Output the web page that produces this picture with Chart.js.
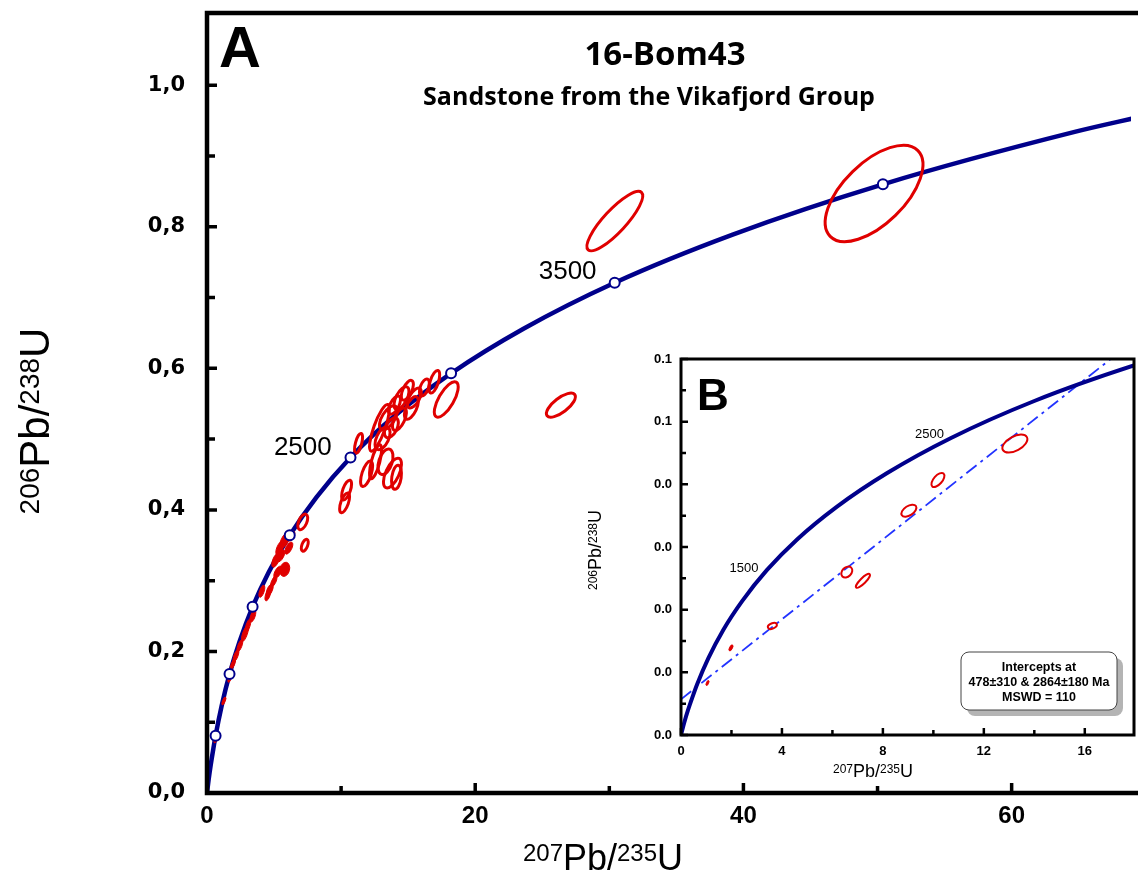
<!DOCTYPE html>
<html>
<head>
<meta charset="utf-8">
<title>16-Bom43 concordia</title>
<script src="https://cdn.jsdelivr.net/npm/chart.js@4.4.1/dist/chart.umd.min.js"></script>
<style>
  html, body { margin: 0; padding: 0; background: #fff; overflow: hidden; }
  #wrap { position: relative; width: 1138px; height: 873px; }
  #mainChart { position: absolute; left: 0; top: 0; }
  #insetChart { position: absolute; left: 570px; top: 340px; }
</style>
</head>
<body>
<div id="wrap">
  <canvas id="mainChart" width="1138" height="873"></canvas>
  <canvas id="insetChart" width="568" height="450"></canvas>
</div>
<script>
// --- Concordia curve (207Pb/235U , 206Pb/238U) ---
const concordiaX = [0, 0.13, 0.28, 0.45, 0.64, 1.09, 1.68, 2.43, 3.40, 4.6, 6.17, 8.17, 10.7, 14.0, 18.2, 23.6, 30.4, 39.2, 50.4, 64.7, 69.5];
const concordiaY = [0, 0.020, 0.040, 0.060, 0.081, 0.123, 0.168, 0.214, 0.263, 0.312, 0.364, 0.418, 0.474, 0.533, 0.593, 0.656, 0.721, 0.789, 0.860, 0.934, 0.955];

// --- Age marks on the concordia (500 Ma steps) ---
const ageMarkX = [0.64, 1.68, 3.40, 6.17, 10.7, 18.2, 30.4, 50.4];
const ageMarkY = [0.081, 0.168, 0.263, 0.364, 0.474, 0.593, 0.721, 0.860];

// --- Main plot ticks ---
const mainXTicks = [0, 20, 40, 60];
const mainXTickLabels = ['0', '20', '40', '60'];
const mainXMinor = [10, 30, 50];
const mainYTicks = [0, 0.2, 0.4, 0.6, 0.8, 1.0];
const mainYTickLabels = ['0,0', '0,2', '0,4', '0,6', '0,8', '1,0'];
const mainYMinor = [0.1, 0.3, 0.5, 0.7, 0.9];

// --- Zircon analyses, open ellipses: centre, half-extent, correlation ---
const grainX   = [49.74, 30.41, 26.39, 17.84, 16.95, 16.21, 15.46, 14.50, 15.24, 14.35, 13.53, 12.86, 13.09, 11.30, 13.31, 13.83, 14.13, 12.57, 11.90, 10.41, 10.26, 7.14, 7.29, 13.98, 14.94, 13.75];
const grainY   = [0.847, 0.808, 0.548, 0.556, 0.581, 0.573, 0.558, 0.558, 0.544, 0.528, 0.530, 0.516, 0.501, 0.494, 0.468, 0.452, 0.446, 0.468, 0.451, 0.428, 0.410, 0.383, 0.350, 0.548, 0.569, 0.516];
const grainSX  = [3.64, 2.08, 1.08, 0.89, 0.40, 0.37, 0.52, 0.56, 0.52, 0.52, 0.67, 0.74, 0.56, 0.30, 0.56, 0.67, 0.37, 0.45, 0.45, 0.37, 0.37, 0.37, 0.26, 0.45, 0.45, 0.52];
const grainSY  = [0.068, 0.042, 0.017, 0.025, 0.016, 0.012, 0.014, 0.016, 0.016, 0.016, 0.017, 0.033, 0.016, 0.014, 0.018, 0.021, 0.017, 0.024, 0.018, 0.014, 0.014, 0.011, 0.0085, 0.013, 0.014, 0.014];
const grainRho = [0.6, 0.85, 0.7, 0.7, 0.6, 0.5, 0.6, 0.6, 0.6, 0.6, 0.6, 0.8, 0.5, 0.6, 0.4, 0.6, 0.3, 0.7, 0.6, 0.6, 0.6, 0.5, 0.5, 0.6, 0.6, 0.5];

// --- Small (precise) analyses, drawn filled ---
const smallX   = [5.80, 5.43, 6.10, 5.13, 5.80, 5.28, 4.98, 4.68, 4.09, 3.42, 3.05, 2.83, 2.45, 2.16, 1.93, 1.71, 1.26, 0.67, 4.54, 5.50, 6.32];
const smallY   = [0.357, 0.346, 0.346, 0.329, 0.316, 0.312, 0.299, 0.287, 0.285, 0.250, 0.236, 0.225, 0.208, 0.194, 0.182, 0.162, 0.130, 0.075, 0.280, 0.335, 0.363];
const smallSX  = [0.37, 0.30, 0.30, 0.30, 0.37, 0.30, 0.22, 0.26, 0.22, 0.22, 0.22, 0.26, 0.22, 0.22, 0.19, 0.15, 0.15, 0.15, 0.22, 0.30, 0.22];
const smallSY  = [0.011, 0.010, 0.0085, 0.010, 0.010, 0.0085, 0.007, 0.0085, 0.0085, 0.0085, 0.010, 0.011, 0.0085, 0.0085, 0.007, 0.0056, 0.0056, 0.0042, 0.0085, 0.0085, 0.007];
const smallRho = [0.6, 0.6, 0.6, 0.6, 0.2, 0.6, 0.6, 0.6, 0.6, 0.6, 0.7, 0.7, 0.7, 0.7, 0.7, 0.7, 0.7, 0.7, 0.6, 0.6, 0.6];

// --- Inset B ---
const insetXTicks = [0, 4, 8, 12, 16];
const insetXTickLabels = ['0', '4', '8', '12', '16'];
const insetXMinor = [2, 6, 10, 14];
const insetYTicks = [0, 0.1, 0.2, 0.3, 0.4, 0.5, 0.6];
const insetYTickLabels = ['0.0', '0.0', '0.0', '0.0', '0.0', '0.1', '0.1'];
const insetYMinor = [0.05, 0.15, 0.25, 0.35, 0.45, 0.55];
const discordiaX = [0, 18];
const discordiaY = [0.057, 0.631];
const insetGrainX   = [13.23, 10.18, 9.03, 6.57, 7.21, 3.62];
const insetGrainY   = [0.465, 0.407, 0.358, 0.260, 0.246, 0.174];
const insetGrainSX  = [0.495, 0.257, 0.297, 0.218, 0.277, 0.178];
const insetGrainSY  = [0.0144, 0.0112, 0.0096, 0.0088, 0.0112, 0.0048];
const insetGrainRho = [0.5, 0.6, 0.5, 0.3, 0.85, 0.4];
const insetSmallX   = [1.98, 1.05];
const insetSmallY   = [0.139, 0.083];
const insetSmallSX  = [0.079, 0.059];
const insetSmallSY  = [0.0048, 0.0040];
const insetSmallRho = [0.6, 0.6];
const interceptText = ['Intercepts at', '478\u00B1310 & 2864\u00B1180 Ma', 'MSWD = 110'];

// --- Colours / fonts ---
const NAVY = '#00008b';
const RED = '#e00000';
const DISC_BLUE = '#2233ff';
const ARIAL = '"Liberation Sans", Arial, sans-serif';
const MYRIAD = '"Open Sans", "Noto Sans", sans-serif';

const toPoints = (xs, ys) => xs.map((x, i) => ({ x: x, y: ys[i] }));

// ellipse from centre, bounding half-extents and correlation, through the scales
function ellipsePath(ctx, sx, sy, cx, cy, hx, hy, rho) {
    const px = sx.getPixelForValue(cx);
    const py = sy.getPixelForValue(cy);
    const kx = Math.abs(sx.getPixelForValue(cx + hx) - px);
    const ky = Math.abs(sy.getPixelForValue(cy + hy) - py);
    const a = kx * kx, c = ky * ky, b = -rho * kx * ky;
    const mid = (a + c) / 2;
    const d = Math.sqrt(((a - c) / 2) ** 2 + b * b);
    const r1 = Math.sqrt(mid + d);
    const r2 = Math.sqrt(Math.max(mid - d, 0.5));
    const ang = 0.5 * Math.atan2(2 * b, a - c);
    ctx.beginPath();
    ctx.ellipse(px, py, r1, r2, ang, 0, Math.PI * 2);
}

function drawFrame(ctx, area, lw, openRight) {
    ctx.save();
    ctx.strokeStyle = '#000';
    ctx.lineWidth = lw;
    ctx.lineJoin = 'miter';
    ctx.beginPath();
    if (openRight) {
        ctx.moveTo(area.right + 10, area.top);
        ctx.lineTo(area.left, area.top);
        ctx.lineTo(area.left, area.bottom);
        ctx.lineTo(area.right + 10, area.bottom);
    } else {
        ctx.rect(area.left, area.top, area.right - area.left, area.bottom - area.top);
    }
    ctx.stroke();
    ctx.restore();
}

// inward tick marks
function drawTicks(chart, axis, values, len, lw) {
    const { ctx, chartArea } = chart;
    const s = chart.scales[axis];
    ctx.save();
    ctx.strokeStyle = '#000';
    ctx.lineWidth = lw;
    ctx.beginPath();
    values.forEach(v => {
        const p = s.getPixelForValue(v);
        if (axis === 'x') { ctx.moveTo(p, chartArea.bottom); ctx.lineTo(p, chartArea.bottom - len); }
        else { ctx.moveTo(chartArea.left, p); ctx.lineTo(chartArea.left + len, p); }
    });
    ctx.stroke();
    ctx.restore();
}

// text like 207Pb/235U with raised mass numbers
function drawIsotopeText(ctx, parts, x, y, size, supSize, rotate) {
    ctx.save();
    ctx.translate(x, y);
    if (rotate) ctx.rotate(-Math.PI / 2);
    ctx.fillStyle = '#000';
    ctx.textBaseline = 'alphabetic';
    ctx.textAlign = 'left';
    const big = size + 'px ' + ARIAL;
    const small = supSize + 'px ' + ARIAL;
    const widths = parts.map(([t, sup]) => { ctx.font = sup ? small : big; return ctx.measureText(t).width; });
    const total = widths.reduce((s, w) => s + w, 0);
    let cx = -total / 2;
    const raise = 0.716 * (size - supSize);
    parts.forEach(([t, sup], i) => {
        ctx.font = sup ? small : big;
        ctx.fillText(t, cx, sup ? -raise : 0);
        cx += widths[i];
    });
    ctx.restore();
}

function drawGrains(chart, xs, ys, sxs, sys, rhos, lw, filled) {
    const { ctx, chartArea, scales: { x, y } } = chart;
    ctx.save();
    ctx.beginPath();
    ctx.rect(chartArea.left, chartArea.top, chartArea.right - chartArea.left, chartArea.bottom - chartArea.top);
    ctx.clip();
    ctx.strokeStyle = RED;
    ctx.fillStyle = RED;
    ctx.lineWidth = lw;
    xs.forEach((cx, i) => {
        ellipsePath(ctx, x, y, cx, ys[i], sxs[i], sys[i], rhos[i]);
        if (filled) ctx.fill();
        ctx.stroke();
    });
    ctx.restore();
}

// --- Main chart (A) decorations ---
const mainDecor = {
    id: 'mainDecor',
    beforeDraw(chart) {
        const { ctx, width, height } = chart;
        ctx.save();
        ctx.fillStyle = '#fff';
        ctx.fillRect(0, 0, width, height);
        ctx.restore();
    },
    afterDatasetDraw(chart, args) {
        if (args.index !== 0) return;
        drawGrains(chart, smallX, smallY, smallSX, smallSY, smallRho, 1, true);
        drawGrains(chart, grainX, grainY, grainSX, grainSY, grainRho, 3, false);
    },
    afterDraw(chart) {
        const { ctx, chartArea: area, scales: { x, y } } = chart;
        drawFrame(ctx, area, 4.5, true);
        drawTicks(chart, 'x', mainXTicks, 10, 3.5);
        drawTicks(chart, 'x', mainXMinor, 7, 3.5);
        drawTicks(chart, 'y', mainYTicks, 10, 3.5);
        drawTicks(chart, 'y', mainYMinor, 8, 3.5);

        ctx.save();
        ctx.fillStyle = '#000';
        ctx.textBaseline = 'alphabetic';
        // panel letter
        ctx.font = 'bold 58px ' + ARIAL;
        ctx.textAlign = 'left';
        ctx.fillText('A', area.left + 12, area.top + 54);
        // title
        ctx.textAlign = 'center';
        ctx.font = 'bold 33px ' + MYRIAD;
        ctx.fillText('16-Bom43', area.left + 458, area.top + 52, 178);
        ctx.font = 'bold 25px ' + MYRIAD;
        ctx.fillText('Sandstone from the Vikafjord Group', area.left + 442, area.top + 92, 482);
        // age labels on the concordia
        ctx.font = '26px ' + ARIAL;
        ctx.textAlign = 'right';
        ctx.fillText('2500', x.getPixelForValue(9.3), y.getPixelForValue(0.477));
        ctx.fillText('3500', x.getPixelForValue(29.05), y.getPixelForValue(0.726));
        ctx.restore();

        // axis titles
        drawIsotopeText(ctx, [['207', true], ['Pb/', false], ['235', true], ['U', false]], 603, 870, 36, 24, false);
        drawIsotopeText(ctx, [['206', true], ['Pb/', false], ['238', true], ['U', false]], 49, 421, 42, 28, true);
    }
};

// --- Inset chart (B) decorations ---
const insetDecor = {
    id: 'insetDecor',
    beforeDraw(chart) {
        const { ctx, chartArea: a } = chart;
        ctx.save();
        ctx.fillStyle = '#fff';
        ctx.fillRect(a.left, a.top, a.right - a.left, a.bottom - a.top);
        ctx.restore();
    },
    afterDatasetsDraw(chart) {
        drawGrains(chart, insetGrainX, insetGrainY, insetGrainSX, insetGrainSY, insetGrainRho, 2, false);
        drawGrains(chart, insetSmallX, insetSmallY, insetSmallSX, insetSmallSY, insetSmallRho, 1, true);
    },
    afterDraw(chart) {
        const { ctx, chartArea: area, scales: { x, y } } = chart;
        drawFrame(ctx, area, 3, false);
        drawTicks(chart, 'x', insetXTicks, 7, 2.5);
        drawTicks(chart, 'x', insetXMinor, 5, 2.5);
        drawTicks(chart, 'y', insetYTicks, 7, 2.5);
        drawTicks(chart, 'y', insetYMinor, 5, 2.5);

        ctx.save();
        ctx.fillStyle = '#000';
        ctx.font = 'bold 44px ' + ARIAL;
        ctx.textAlign = 'left';
        ctx.fillText('B', area.left + 16, area.top + 51);
        ctx.font = '13px ' + ARIAL;
        ctx.fillText('2500', x.getPixelForValue(9.27), y.getPixelForValue(0.474));
        ctx.fillText('1500', x.getPixelForValue(1.92), y.getPixelForValue(0.260));

        // intercept box with drop shadow
        const bw = 156, bh = 58;
        const bx = area.right - 17 - bw, by = area.bottom - 25 - bh;
        ctx.fillStyle = '#b4b4b4';
        ctx.beginPath();
        ctx.roundRect(bx + 6, by + 6, bw, bh, 8);
        ctx.fill();
        ctx.fillStyle = '#fff';
        ctx.strokeStyle = '#444';
        ctx.lineWidth = 1;
        ctx.beginPath();
        ctx.roundRect(bx, by, bw, bh, 8);
        ctx.fill();
        ctx.stroke();
        ctx.fillStyle = '#000';
        ctx.font = 'bold 12.5px ' + ARIAL;
        ctx.textAlign = 'center';
        interceptText.forEach((t, i) => ctx.fillText(t, bx + bw / 2, by + 19 + i * 15, bw - 8));
        ctx.restore();

        drawIsotopeText(ctx, [['207', true], ['Pb/', false], ['235', true], ['U', false]], 303, 437, 18, 12, false);
        drawIsotopeText(ctx, [['206', true], ['Pb/', false], ['238', true], ['U', false]], 31, 210, 18, 12, true);
    }
};

const fixedTicks = values => scale => { scale.ticks = values.map(v => ({ value: v })); };
// keep the plot box exactly where the layout padding puts it
const fitX = h => s => { s.height = h; s.paddingLeft = 0; s.paddingRight = 0; };
const fitY = w => s => { s.width = w; s.paddingTop = 0; s.paddingBottom = 0; };

// --- Main chart ---
new Chart(document.getElementById('mainChart'), {
    type: 'scatter',
    data: {
        datasets: [
            {
                data: toPoints(concordiaX, concordiaY),
                showLine: true,
                borderColor: NAVY,
                borderWidth: 4.5,
                pointRadius: 0,
                cubicInterpolationMode: 'monotone',
                order: 2
            },
            {
                data: toPoints(ageMarkX, ageMarkY),
                showLine: false,
                pointRadius: 5,
                pointBackgroundColor: '#fff',
                pointBorderColor: NAVY,
                pointBorderWidth: 2,
                order: 1
            }
        ]
    },
    options: {
        responsive: false,
        animation: false,
        events: [],
        layout: { padding: { top: 13, right: 0, bottom: 0, left: 0 } },
        plugins: { legend: { display: false }, tooltip: { enabled: false } },
        scales: {
            x: {
                type: 'linear', min: 0, max: 68.9,
                afterBuildTicks: fixedTicks(mainXTicks),
                afterFit: fitX(80),
                grid: { display: false, drawTicks: false },
                border: { display: false },
                ticks: {
                    padding: 9, color: '#000', autoSkip: false, maxRotation: 0,
                    font: { family: 'Liberation Sans', size: 24, weight: 'bold' },
                    callback: (v, i) => mainXTickLabels[i]
                }
            },
            y: {
                type: 'linear', min: 0, max: 1.102,
                afterBuildTicks: fixedTicks(mainYTicks),
                afterFit: fitY(207),
                grid: { display: false, drawTicks: false },
                border: { display: false },
                ticks: {
                    padding: 22, color: '#000', autoSkip: false,
                    font: { family: 'DejaVu Sans', size: 21, weight: 'bold' },
                    callback: (v, i) => mainYTickLabels[i]
                }
            }
        }
    },
    plugins: [mainDecor]
});

// --- Inset chart ---
new Chart(document.getElementById('insetChart'), {
    type: 'scatter',
    data: {
        datasets: [
            {
                data: toPoints(concordiaX, concordiaY),
                showLine: true,
                borderColor: NAVY,
                borderWidth: 4,
                pointRadius: 0,
                cubicInterpolationMode: 'monotone'
            },
            {
                data: toPoints(discordiaX, discordiaY),
                showLine: true,
                borderColor: DISC_BLUE,
                borderWidth: 1.8,
                borderDash: [13, 5, 3, 5],
                pointRadius: 0
            }
        ]
    },
    options: {
        responsive: false,
        animation: false,
        events: [],
        layout: { padding: { top: 19, right: 4, bottom: 0, left: 0 } },
        plugins: { legend: { display: false }, tooltip: { enabled: false } },
        scales: {
            x: {
                type: 'linear', min: 0, max: 17.95,
                afterBuildTicks: fixedTicks(insetXTicks),
                afterFit: fitX(55),
                grid: { display: false, drawTicks: false },
                border: { display: false },
                ticks: {
                    padding: 9, color: '#000', autoSkip: false, maxRotation: 0,
                    font: { family: 'Liberation Sans', size: 13, weight: 'bold' },
                    callback: (v, i) => insetXTickLabels[i]
                }
            },
            y: {
                type: 'linear', min: 0, max: 0.6,
                afterBuildTicks: fixedTicks(insetYTicks),
                afterFit: fitY(111),
                grid: { display: false, drawTicks: false },
                border: { display: false },
                ticks: {
                    padding: 9, color: '#000', autoSkip: false,
                    font: { family: 'Liberation Sans', size: 13, weight: 'bold' },
                    callback: (v, i) => insetYTickLabels[i]
                }
            }
        }
    },
    plugins: [insetDecor]
});
</script>
</body>
</html>
